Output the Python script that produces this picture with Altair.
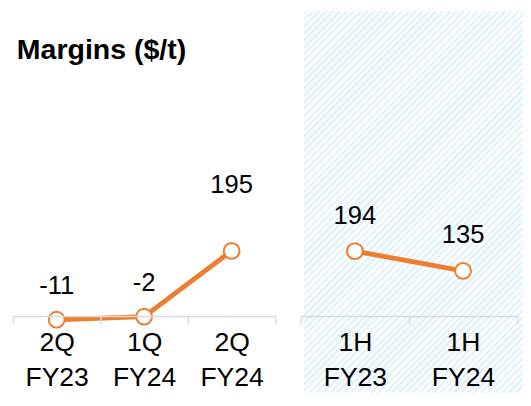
import altair as alt
import pandas as pd

# ---- data ----
chart_title = "Margins ($/t)"
q_periods = ["2Q FY23", "1Q FY24", "2Q FY24"]
q_values = [-11, -2, 195]
h_periods = ["1H FY23", "1H FY24"]
h_values = [194, 135]

q_df = pd.DataFrame({"period": q_periods, "value": q_values, "label": [str(v) for v in q_values]})
h_df = pd.DataFrame({"period": h_periods, "value": h_values, "label": [str(v) for v in h_values]})

# ---- style ----
ORANGE = "#ED7D31"
AXIS_GREY = "#d9d9d9"
FONT = "Liberation Sans"
LEFT_W, RIGHT_W, PLOT_H = 267, 220, 218
Y_DOMAIN = [0, 641]
BG_TOP, BG_BOTTOM = -92, 296
BG_LEFT, BG_RIGHT = 3, 226

# diagonal hatch built as a striped linear gradient
BG_W, BG_H = BG_RIGHT - BG_LEFT, BG_BOTTOM - BG_TOP
period_px = 7.0
denom = BG_W + BG_H * BG_H / BG_W
tp = period_px / denom
stops = []
k = 0
while k * tp < 1.0:
    t0 = k * tp
    t1 = min(t0 + tp * 0.5, 1.0)
    t2 = min(t0 + tp, 1.0)
    stops += [
        alt.GradientStop(color="#e3f3fc", offset=t0),
        alt.GradientStop(color="#e3f3fc", offset=t1),
        alt.GradientStop(color="#ffffff", offset=t1),
        alt.GradientStop(color="#ffffff", offset=t2),
    ]
    k += 1
hatch = alt.LinearGradient(gradient="linear", stops=stops, x1=0, y1=0, x2=1, y2=BG_H / BG_W)


def xenc(periods):
    return alt.X(
        "period:N",
        sort=periods,
        title=None,
        scale=alt.Scale(paddingInner=0, paddingOuter=0),
        axis=alt.Axis(
            labelAngle=0,
            labelExpr="split(datum.label, ' ')",
            labelFontSize=27,
            labelLineHeight=36,
            labelColor="#000000",
            labelFont=FONT,
            labelPadding=6,
            domainColor=AXIS_GREY,
            domainWidth=1.5,
            tickColor=AXIS_GREY,
            tickWidth=1.5,
            tickSize=8,
            tickBand="extent",
            grid=False,
            zindex=1,
        ),
    )


yenc = alt.Y("value:Q", scale=alt.Scale(domain=Y_DOMAIN, nice=False, zero=False), axis=None)


def series_layers(df, periods, dy_rules):
    base = alt.Chart(df).encode(x=xenc(periods), y=yenc)
    line = base.mark_line(color=ORANGE, strokeWidth=5)
    pts = base.mark_circle(fill="white", stroke=ORANGE, strokeWidth=2, size=260, opacity=1)
    texts = [
        base.mark_text(dy=dy, fontSize=26, font=FONT, color="#000000")
        .encode(text="label:N")
        .transform_filter(cond)
        for cond, dy in dy_rules
    ]
    return [line, pts] + texts


left = alt.layer(
    *series_layers(q_df, q_periods, [("datum.value < 100", -34), ("datum.value >= 100", -67)])
).properties(
    width=LEFT_W,
    height=PLOT_H,
    title=alt.TitleParams(
        chart_title,
        anchor="start",
        frame="group",
        fontSize=29,
        font=FONT,
        fontWeight="bold",
        color="#000000",
        dx=4,
        offset=15,
        baseline="alphabetic",
    ),
)

bg = alt.Chart(pd.DataFrame({"panel": ["half-year"]})).mark_rect(fill=hatch, strokeWidth=0).encode(
    x=alt.value(BG_LEFT), x2=alt.value(BG_RIGHT), y=alt.value(BG_TOP), y2=alt.value(BG_BOTTOM)
)

right = alt.layer(
    bg, *series_layers(h_df, h_periods, [("datum.value > -1000", -36)])
).properties(width=RIGHT_W, height=PLOT_H)

chart = (
    alt.hconcat(left, right, spacing=26, bounds="flush")
    .properties(padding={"left": 4, "top": 0, "right": 0, "bottom": 0})
    .configure_view(stroke=None)
)

chart.save("out.html", embed_options={"renderer": "svg", "actions": False})
